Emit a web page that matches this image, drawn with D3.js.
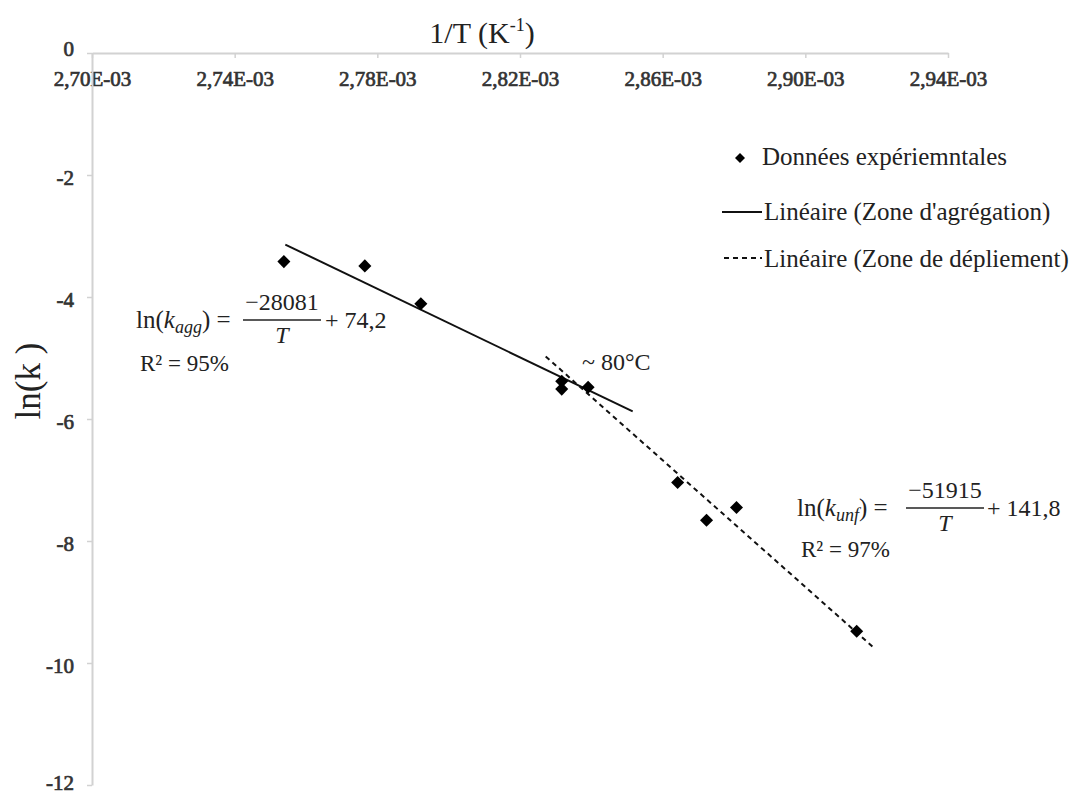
<!DOCTYPE html>
<html>
<head>
<meta charset="utf-8">
<script src="https://cdn.jsdelivr.net/npm/d3@7"></script>
<style>
  html, body { margin: 0; padding: 0; background: #fff; }
  svg { display: block; }
  svg text { font-family: "Liberation Serif", "Times New Roman", Times, serif; }
</style>
</head>
<body>
<svg id="chart" width="1075" height="798"></svg>
<script>
// ---- data ----
const invT = [0.0027538, 0.0027765, 0.0027922, 0.0028317, 0.0028317, 0.0028391, 0.0028642, 0.0028723, 0.0028807, 0.0029144];
const lnK  = [-3.42, -3.49, -4.11, -5.38, -5.51, -5.48, -7.04, -7.66, -7.45, -9.48];

const xTicks = [0.00270, 0.00274, 0.00278, 0.00282, 0.00286, 0.00290, 0.00294];
const xTickLabels = ["2,70E-03", "2,74E-03", "2,78E-03", "2,82E-03", "2,86E-03", "2,90E-03", "2,94E-03"];
const yTicks = [0, -2, -4, -6, -8, -10, -12];
const yTickLabels = ["0", "-2", "-4", "-6", "-8", "-10", "-12"];

// linear fits shown on the chart: ln(k) = slope * (1/T) + intercept
const aggFit = [-28081, 74.2];
const aggRange = [0.0027542, 0.0028516];
const unfFit = [-51915, 141.8];
const unfRange = [0.0028272, 0.0029188];

const legendLabels = ["Données expériemntales", "Linéaire (Zone d'agrégation)", "Linéaire (Zone de dépliement)"];

// ---- drawing ----
const FONT = "'Liberation Serif', 'Times New Roman', Times, serif";
const svg = d3.select("#chart");
const x = d3.scaleLinear().domain([0.00270, 0.00294]).range([92, 948]);
const y = d3.scaleLinear().domain([0, -12]).range([53, 785]);

const axisColor = "#d2d2d2";

function styleTickText(sel) {
  sel.attr("font-family", FONT).attr("font-size", 21).attr("font-weight", "normal")
    .attr("fill", "#333").attr("stroke", "#333").attr("stroke-width", 0.7);
}

// X axis (at top, y = 0)
const gx = svg.append("g").attr("transform", `translate(0,${y(0)})`)
  .call(d3.axisBottom(x).tickValues(xTicks).tickSize(5).tickSizeOuter(0).tickPadding(13)
    .tickFormat((d, i) => xTickLabels[i]));
gx.attr("font-family", FONT);
gx.select(".domain").attr("stroke", axisColor).attr("stroke-width", 2);
gx.selectAll(".tick line").attr("stroke", axisColor).attr("stroke-width", 1.5);
styleTickText(gx.selectAll(".tick text"));

// Y axis
const gy = svg.append("g").attr("transform", `translate(${x(0.00270)},0)`)
  .call(d3.axisLeft(y).tickValues(yTicks).tickSize(5).tickSizeOuter(0).tickPadding(13)
    .tickFormat((d, i) => yTickLabels[i]));
gy.attr("font-family", FONT);
gy.select(".domain").attr("stroke", axisColor).attr("stroke-width", 2);
gy.selectAll(".tick line").attr("stroke", axisColor).attr("stroke-width", 1.5);
styleTickText(gy.selectAll(".tick text"));
gy.selectAll(".tick text").attr("dy", "0.45em");
gy.selectAll(".tick").filter(d => d === 0).select("text").attr("dy", "0.1em");
gy.selectAll(".tick").filter(d => d === -12).select("text").attr("dy", "0.2em");

// Axis titles
const title = svg.append("text").attr("x", 482).attr("y", 43).attr("text-anchor", "middle")
  .attr("font-family", FONT).attr("font-size", 30).attr("fill", "#222");
title.append("tspan").text("1/T (K");
title.append("tspan").attr("font-size", 18).attr("dy", -12).text("-1");
title.append("tspan").attr("dy", 12).text(")");

svg.append("text").attr("transform", "translate(40,381) rotate(-90)").attr("text-anchor", "middle")
  .attr("font-family", FONT).attr("font-size", 35).attr("fill", "#222").text("ln(k )");

// Trend lines
const line = d3.line().x(d => x(d[0])).y(d => y(d[1]));
const aggPts = aggRange.map(v => [v, aggFit[0] * v + aggFit[1]]);
const unfPts = unfRange.map(v => [v, unfFit[0] * v + unfFit[1]]);
svg.append("path").attr("d", line(aggPts)).attr("fill", "none").attr("stroke", "#111").attr("stroke-width", 2);
svg.append("path").attr("d", line(unfPts)).attr("fill", "none").attr("stroke", "#111").attr("stroke-width", 2)
  .attr("stroke-dasharray", "5,4");

// Data points (diamonds)
const diamond = d3.symbol().type(d3.symbolSquare).size(85);
svg.append("g").selectAll("path").data(invT.map((v, i) => [v, lnK[i]])).join("path")
  .attr("d", diamond)
  .attr("transform", d => `translate(${x(d[0])},${y(d[1])}) rotate(45)`)
  .attr("fill", "#000");

// Legend
const lg = svg.append("g").attr("font-family", FONT);
lg.append("path").attr("d", d3.symbol().type(d3.symbolSquare).size(50)())
  .attr("transform", "translate(740,158) rotate(45)").attr("fill", "#000");
lg.append("text").attr("x", 762).attr("y", 165).attr("font-size", 25).attr("fill", "#222").text(legendLabels[0]);
lg.append("line").attr("x1", 722).attr("x2", 762).attr("y1", 212).attr("y2", 212).attr("stroke", "#111").attr("stroke-width", 2);
lg.append("text").attr("x", 764).attr("y", 220).attr("font-size", 25).attr("fill", "#222").text(legendLabels[1]);
lg.append("line").attr("x1", 724).attr("x2", 762).attr("y1", 258).attr("y2", 258).attr("stroke", "#111").attr("stroke-width", 2)
  .attr("stroke-dasharray", "5,4");
lg.append("text").attr("x", 764).attr("y", 267).attr("font-size", 25).attr("fill", "#222").text(legendLabels[2]);

// Equation helper
function equation(g, lx, base, sub, num, fx1, fx2, rest, restX, r2, r2y) {
  const t = g.append("text").attr("x", lx).attr("y", base).attr("font-size", 25).attr("fill", "#222");
  t.append("tspan").text("ln(");
  t.append("tspan").attr("font-style", "italic").text("k");
  t.append("tspan").attr("font-style", "italic").attr("font-size", 18).attr("dy", 5).text(sub);
  t.append("tspan").attr("dy", -5).text(") =");
  g.append("text").attr("x", (fx1 + fx2) / 2).attr("y", base - 18).attr("text-anchor", "middle")
    .attr("font-size", 24).attr("fill", "#222").text(num);
  g.append("line").attr("x1", fx1).attr("x2", fx2).attr("y1", base - 8).attr("y2", base - 8)
    .attr("stroke", "#222").attr("stroke-width", 1.3);
  g.append("text").attr("x", (fx1 + fx2) / 2).attr("y", base + 15).attr("text-anchor", "middle")
    .attr("font-size", 24).attr("font-style", "italic").attr("fill", "#222").text("T");
  g.append("text").attr("x", restX).attr("y", base).attr("font-size", 24).attr("fill", "#222").text(rest);
  g.append("text").attr("x", lx + 4).attr("y", r2y).attr("font-size", 23).attr("fill", "#222").text(r2);
}
const eq = svg.append("g").attr("font-family", FONT);
equation(eq, 136, 328, "agg", "\u221228081", 243, 321, "+ 74,2", 325, "R\u00B2 = 95%", 371);
equation(eq, 797, 516, "unf", "\u221251915", 906, 984, "+ 141,8", 987, "R\u00B2 = 97%", 557);

svg.append("text").attr("x", 582).attr("y", 370).attr("font-family", FONT).attr("font-size", 24)
  .attr("fill", "#222").text("~ 80°C");
</script>
</body>
</html>
